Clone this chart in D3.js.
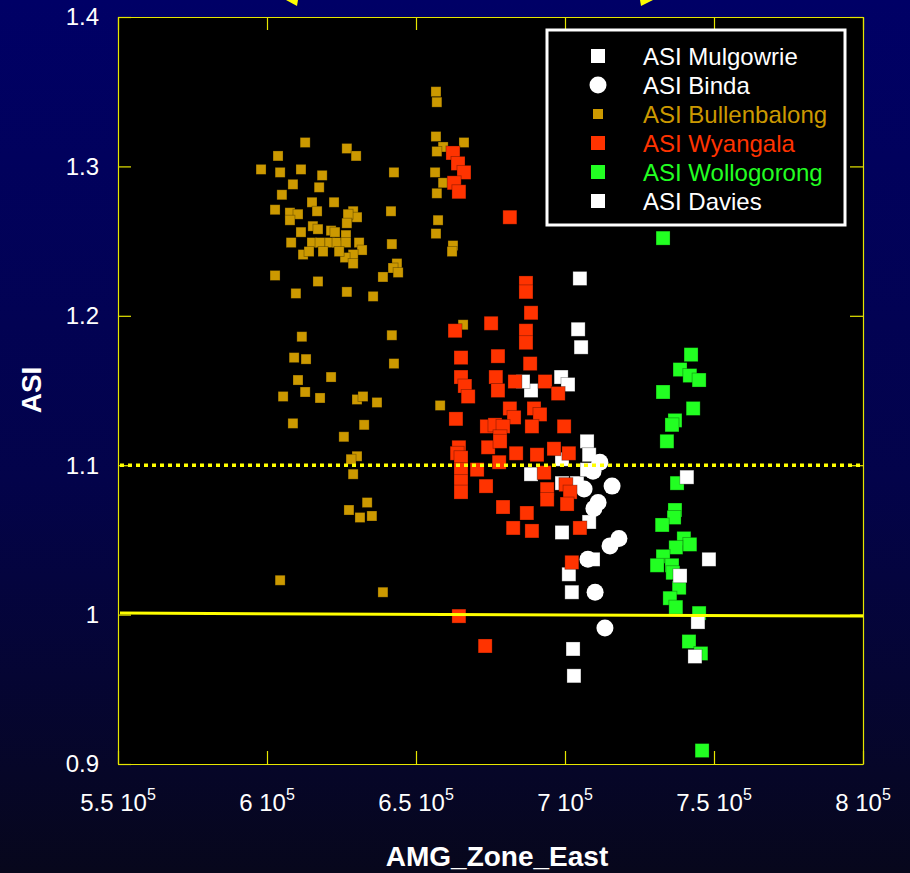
<!DOCTYPE html>
<html><head><meta charset="utf-8">
<script src="https://cdn.jsdelivr.net/npm/d3@7"></script>
<style>html,body{margin:0;padding:0;background:#000060;} svg{display:block;}</style>
</head><body><svg id="c" width="910" height="873"></svg>
<script>
// ---------------- DATA ----------------
const seriesNames = ["ASI Mulgowrie","ASI Binda","ASI Bullenbalong","ASI Wyangala","ASI Wollogorong","ASI Davies"];
const xTicks = [550000,600000,650000,700000,750000,800000];
const xTickLabels = ["5.5","6","6.5","7","7.5","8"];
const yTicks = [0.9,1.0,1.1,1.2,1.3,1.4];
const yTickLabels = ["0.9","1","1.1","1.2","1.3","1.4"];
const thresholdDotted = 1.1;
const trendLine = [[550000,1.001],[800000,0.999]];

const mulgowrie = [[705000,1.225],[704400,1.191],[705400,1.179],[698700,1.159],[701000,1.154],[688600,1.150],[685900,1.156],
 [707400,1.116],[708100,1.107],[699000,1.104],[688600,1.094],[699000,1.088],[704000,1.088],[707400,1.097],[708100,1.062],
 [699000,1.055],[709400,1.037],[701300,1.027],[702300,1.015],[702700,0.977],[703000,0.959]];
const binda = [[711700,1.102],[709400,1.096],[715800,1.086],[706400,1.084],[711100,1.075],[709700,1.071],[718100,1.051],
 [715100,1.046],[707700,1.037],[710100,1.015],[713400,0.991]];
const bullenbalong = [[612800,1.316],[603700,1.307],[626800,1.312],[629900,1.307],[598000,1.298],[604400,1.296],[611400,1.298],
 [618500,1.294],[608700,1.288],[617500,1.286],[642600,1.296],[605000,1.281],[615100,1.276],[622500,1.276],[602700,1.271],
 [607700,1.269],[610400,1.268],[616800,1.270],[628900,1.270],[630200,1.266],[627200,1.268],[641600,1.270],[607700,1.264],
 [615400,1.260],[626800,1.262],[617100,1.258],[621500,1.257],[622800,1.256],[611400,1.256],[608100,1.249],[615100,1.249],
 [617800,1.249],[621100,1.249],[623500,1.249],[626500,1.254],[626500,1.249],[630900,1.249],[631900,1.244],[628900,1.241],
 [626200,1.239],[628900,1.235],[612100,1.241],[614100,1.243],[618800,1.243],[624200,1.243],[641900,1.248],[656400,1.296],
 [659100,1.289],[657000,1.282],[657400,1.264],[656700,1.255],[662400,1.247],[662100,1.243],[643600,1.235],[642300,1.232],
 [644000,1.229],[638900,1.226],[602700,1.227],[617100,1.223],[609700,1.215],[626800,1.216],[635600,1.213],[611700,1.186],
 [641900,1.187],[609100,1.172],[613100,1.171],[642600,1.168],[621500,1.159],[610400,1.157],[612800,1.149],[605400,1.146],
 [617800,1.145],[630200,1.144],[632200,1.146],[636900,1.142],[658100,1.140],[608700,1.128],[632600,1.127],[625800,1.119],
 [630200,1.106],[628200,1.104],[628900,1.094],[633600,1.075],[627500,1.070],[631200,1.065],[635200,1.066],[604400,1.023],
 [638900,1.015],[656700,1.350],[657000,1.343],[656700,1.320],[659100,1.313],[657000,1.310],[666100,1.316],[665800,1.194]];
const wyangala = [[662400,1.309],[664100,1.302],[666100,1.296],[662800,1.289],[664400,1.283],[681500,1.266],[686900,1.222],
 [686900,1.216],[688600,1.202],[686900,1.190],[686900,1.182],[663100,1.190],[675200,1.195],[665100,1.172],[677500,1.173],
 [688300,1.168],[665100,1.159],[666400,1.153],[667500,1.146],[676800,1.159],[677500,1.150],[683200,1.156],[693300,1.156],
 [697700,1.148],[663400,1.131],[681500,1.138],[682900,1.132],[689600,1.138],[691600,1.134],[688900,1.126],[699700,1.126],
 [673800,1.126],[676500,1.127],[679200,1.126],[678200,1.119],[674200,1.112],[678200,1.116],[664400,1.112],[663800,1.108],
 [665100,1.105],[683600,1.108],[690600,1.107],[696300,1.111],[701300,1.108],[677900,1.102],[665100,1.097],[670500,1.097],
 [693000,1.095],[665100,1.089],[673500,1.086],[665100,1.082],[694000,1.084],[694000,1.077],[700300,1.087],[701700,1.082],
 [700700,1.074],[679200,1.072],[687200,1.068],[682600,1.058],[688900,1.056],[705000,1.058],[702300,1.035],[664400,0.999],
 [673200,0.979]];
const wollogorong = [[732900,1.252],[742300,1.174],[738600,1.164],[741900,1.160],[745000,1.157],[732900,1.149],[743000,1.138],
 [736900,1.130],[735900,1.127],[734200,1.116],[737600,1.088],[736900,1.070],[736600,1.065],[732600,1.060],[739900,1.051],
 [741900,1.047],[737200,1.045],[732900,1.039],[730900,1.033],[735900,1.033],[736200,1.028],[738300,1.018],[735200,1.011],
 [737200,1.005],[745000,1.001],[741600,0.982],[745600,0.974],[746000,0.909]];
const davies = [[740900,1.092],[748300,1.037],[738600,1.026],[744600,0.995],[743600,0.972]];

// ---------------- STYLE ----------------
const seriesData = [mulgowrie, binda, bullenbalong, wyangala, wollogorong, davies];
const seriesColor = ["#ffffff","#ffffff","#cc9900","#ff3300","#22ff22","#ffffff"];
const seriesShape = ["square","circle","square","square","square","square"];
const seriesSize = [14, 17, 10, 14, 14, 14];
const FONT = "'Liberation Sans', Arial, Helvetica, sans-serif";
const L = 118, R = 863, T = 17, B = 764;

const svg = d3.select("#c");
const defs = svg.append("defs");
const grad = defs.append("linearGradient").attr("id","bg").attr("x1",0).attr("y1",0).attr("x2",0).attr("y2",1);
grad.append("stop").attr("offset","0%").attr("stop-color","#000066");
grad.append("stop").attr("offset","55%").attr("stop-color","#03034a");
grad.append("stop").attr("offset","100%").attr("stop-color","#07071c");
svg.append("rect").attr("width",910).attr("height",873).attr("fill","url(#bg)");

// top arrow tips
svg.append("polygon").attr("points","286,0 298,0 297,6").attr("fill","#ffff00");
svg.append("polygon").attr("points","640,0 653,0 641,6").attr("fill","#ffff00");

const x = d3.scaleLinear().domain([550000,800000]).range([L,R]);
const y = d3.scaleLinear().domain([0.9,1.4]).range([B,T]);

svg.append("rect").attr("x",L).attr("y",T).attr("width",R-L).attr("height",B-T).attr("fill","#000");

// axes (ticks inside)
const axStyle = g => { g.select(".domain").attr("stroke","#e6e600").attr("stroke-width",1.2);
  g.selectAll(".tick line").attr("stroke","#e6e600").attr("stroke-width",1.2); g.selectAll("text").remove(); };
svg.append("g").attr("transform",`translate(0,${B})`).call(d3.axisBottom(x).tickValues(xTicks).tickSizeInner(-13).tickSizeOuter(0)).call(axStyle);
svg.append("g").attr("transform",`translate(0,${T})`).call(d3.axisTop(x).tickValues(xTicks).tickSizeInner(-13).tickSizeOuter(0)).call(axStyle);
svg.append("g").attr("transform",`translate(${L},0)`).call(d3.axisLeft(y).tickValues(yTicks).tickSizeInner(-13).tickSizeOuter(0)).call(axStyle);
svg.append("g").attr("transform",`translate(${R},0)`).call(d3.axisRight(y).tickValues(yTicks).tickSizeInner(-13).tickSizeOuter(0)).call(axStyle);

// tick labels
svg.append("g").selectAll("text").data(yTicks).join("text")
  .attr("x", L-19).attr("y", d=>y(d)).attr("dy","0.35em").attr("text-anchor","end")
  .attr("fill","#fff").attr("font-family",FONT).attr("font-size",24)
  .text((d,i)=>yTickLabels[i]);
const xl = svg.append("g").selectAll("text").data(xTicks).join("text")
  .attr("x", d=>x(d)).attr("y", 811).attr("text-anchor","middle")
  .attr("fill","#fff").attr("font-family",FONT).attr("font-size",24);
xl.append("tspan").text((d,i)=>xTickLabels[i]+" 10");
xl.append("tspan").attr("dy",-11).attr("font-size",16).text("5");

// axis titles
svg.append("text").attr("x",497).attr("y",866).attr("text-anchor","middle").attr("fill","#fff")
  .attr("font-family",FONT).attr("font-size",28).attr("font-weight","bold").text("AMG_Zone_East");
svg.append("text").attr("transform","translate(41,390) rotate(-90)").attr("text-anchor","middle").attr("fill","#fff")
  .attr("font-family",FONT).attr("font-size",28).attr("font-weight","bold").text("ASI");

// points
const plot = svg.append("g");
seriesData.forEach((data,i)=>{
  const g = plot.append("g");
  const s = seriesSize[i];
  if (seriesShape[i]==="circle") {
    g.selectAll("circle").data(data).join("circle")
      .attr("cx",d=>x(d[0])).attr("cy",d=>y(d[1])).attr("r",s/2).attr("fill",seriesColor[i]);
  } else {
    g.selectAll("rect").data(data).join("rect")
      .attr("x",d=>x(d[0])-s/2).attr("y",d=>y(d[1])-s/2).attr("width",s).attr("height",s)
      .attr("fill",seriesColor[i]).attr("stroke","rgba(0,0,0,0.35)").attr("stroke-width",0.8);
  }
});

// reference lines
svg.append("line").attr("x1",L+2).attr("x2",R).attr("y1",y(thresholdDotted)).attr("y2",y(thresholdDotted))
  .attr("stroke","#ffff00").attr("stroke-width",3.5).attr("stroke-dasharray","4,4");
svg.append("line").attr("x1",x(trendLine[0][0])+2).attr("y1",y(trendLine[0][1]))
  .attr("x2",x(trendLine[1][0])).attr("y2",y(trendLine[1][1]))
  .attr("stroke","#ffff00").attr("stroke-width",3);

// legend
const lg = svg.append("g");
lg.append("rect").attr("x",547).attr("y",30).attr("width",298).attr("height",195)
  .attr("fill","#000").attr("stroke","#fff").attr("stroke-width",3);
seriesNames.forEach((name,i)=>{
  const cy = 56 + i*29, cx = 598, s = seriesSize[i];
  if (seriesShape[i]==="circle") lg.append("circle").attr("cx",cx).attr("cy",cy).attr("r",s/2).attr("fill",seriesColor[i]);
  else lg.append("rect").attr("x",cx-s/2).attr("y",cy-s/2).attr("width",s).attr("height",s).attr("fill",seriesColor[i]);
  lg.append("text").attr("x",643).attr("y",cy).attr("dy","0.36em").attr("fill",seriesColor[i])
    .attr("font-family",FONT).attr("font-size",24).text(name);
});
</script></body></html>
